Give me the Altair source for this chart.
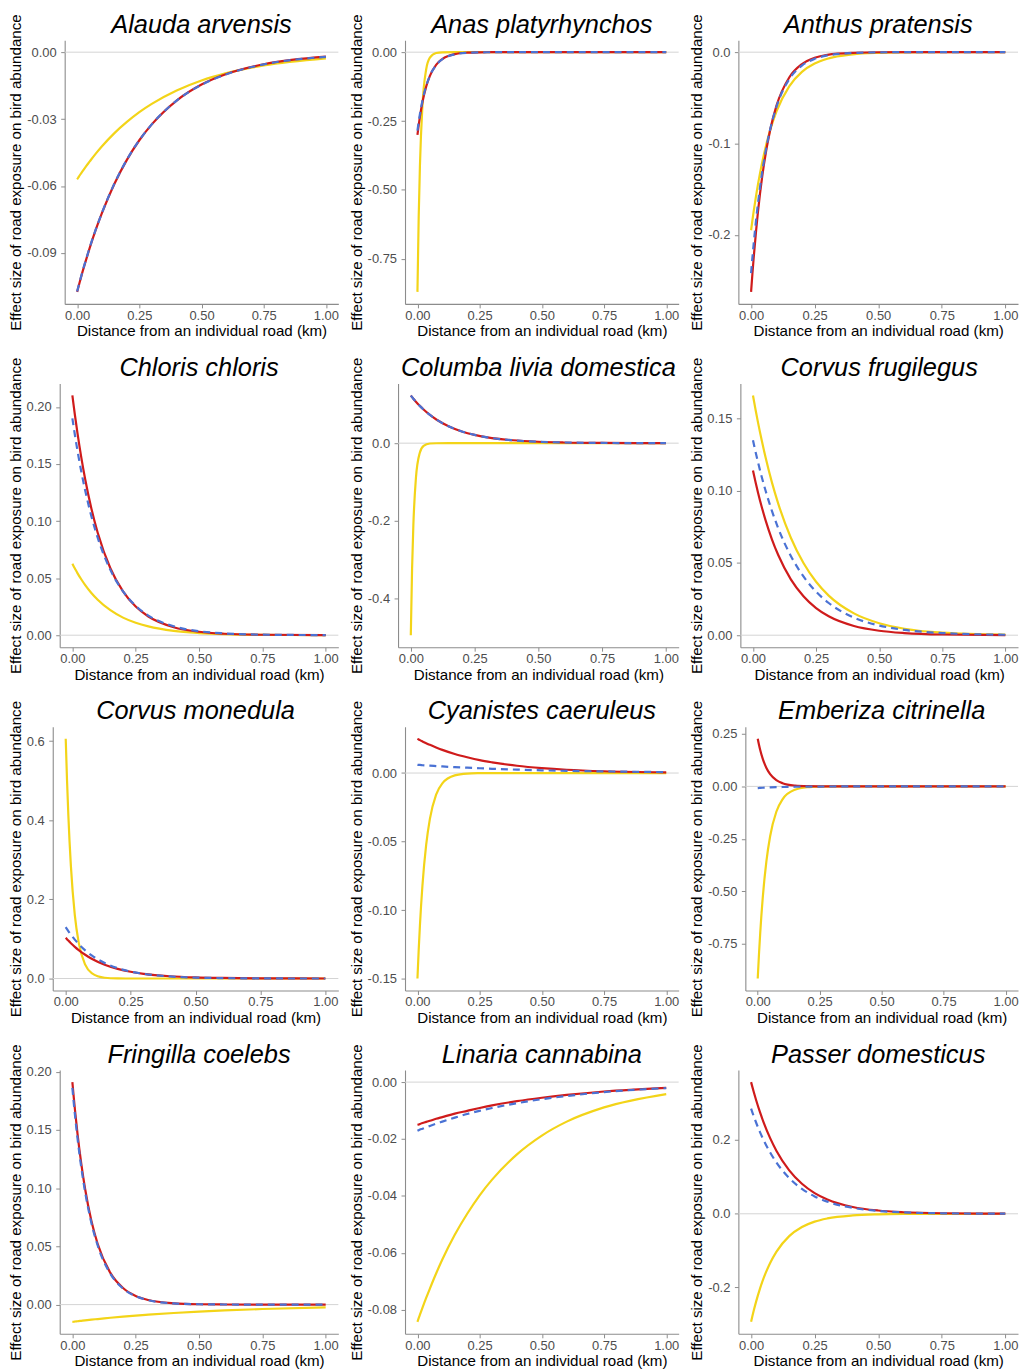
import altair as alt
import pandas as pd

# ---------------- data ----------------
DIST = [0, 0.005, 0.01, 0.02, 0.035, 0.05, 0.075, 0.1, 0.15, 0.2, 0.25, 0.3, 0.4, 0.5, 0.6, 0.75, 1.0]
X_TICKS = [0, 0.25, 0.5, 0.75, 1.0]

SPECIES = [
    "Alauda arvensis", "Anas platyrhynchos", "Anthus pratensis",
    "Chloris chloris", "Columba livia domestica", "Corvus frugilegus",
    "Corvus monedula", "Cyanistes caeruleus", "Emberiza citrinella",
    "Fringilla coelebs", "Linaria cannabina", "Passer domesticus",
]

ALAUDA_RED = [-0.1075, -0.1054, -0.1033, -0.0992, -0.0935, -0.0880, -0.0796, -0.0721, -0.0590, -0.0483, -0.0395, -0.0324, -0.0217, -0.0145, -0.0098, -0.0054, -0.0020]
ALAUDA_BLUE = [-0.1073, -0.1052, -0.1031, -0.0990, -0.0933, -0.0878, -0.0795, -0.0720, -0.0589, -0.0482, -0.0395, -0.0324, -0.0217, -0.0146, -0.0099, -0.0055, -0.0021]
ALAUDA_YELLOW = [-0.0570, -0.0562, -0.0553, -0.0537, -0.0513, -0.0491, -0.0455, -0.0422, -0.0363, -0.0313, -0.0269, -0.0232, -0.0172, -0.0127, -0.0094, -0.0060, -0.0028]

ANAS_RED = [-0.300, -0.265, -0.234, -0.182, -0.125, -0.086, -0.046, -0.025, -0.007, -0.002, -0.0006, -0.0002, 0, 0, 0, 0, 0]
ANAS_BLUE = [-0.285, -0.2528, -0.2242, -0.1764, -0.1230, -0.0858, -0.0471, -0.0258, -0.0078, -0.0023, -0.0007, -0.0002, 0, 0, 0, 0, 0]
ANAS_YELLOW = [-0.870, -0.598, -0.411, -0.194, -0.063, -0.020, -0.003, -0.0005, 0, 0, 0, 0, 0, 0, 0, 0, 0]

ANTHUS_RED = [-0.2625, -0.2435, -0.2259, -0.1945, -0.1553, -0.1240, -0.0852, -0.0586, -0.0277, -0.0131, -0.0062, -0.0029, -0.0007, -0.0001, 0, 0, 0]
ANTHUS_BLUE = [-0.2420, -0.2256, -0.2104, -0.1829, -0.1482, -0.1202, -0.0847, -0.0597, -0.0296, -0.0147, -0.0073, -0.0036, -0.0009, -0.0002, 0, 0, 0]
ANTHUS_YELLOW = [-0.1950, -0.1846, -0.1747, -0.1565, -0.1327, -0.1125, -0.0854, -0.0649, -0.0374, -0.0216, -0.0125, -0.0072, -0.0024, -0.0008, -0.0003, -0.0001, 0]

CHLORIS_RED = [0.2100, 0.2013, 0.1929, 0.1772, 0.1560, 0.1373, 0.1110, 0.0898, 0.0587, 0.0384, 0.0251, 0.0164, 0.0070, 0.0030, 0.0013, 0.0004, 0.0000]
CHLORIS_BLUE = [0.1900, 0.1826, 0.1754, 0.1619, 0.1436, 0.1274, 0.1043, 0.0854, 0.0572, 0.0384, 0.0257, 0.0172, 0.0078, 0.0035, 0.0016, 0.0005, 0.0001]
CHLORIS_YELLOW = [0.0626, 0.0604, 0.0584, 0.0544, 0.0490, 0.0441, 0.0370, 0.0311, 0.0219, 0.0154, 0.0109, 0.0077, 0.0038, 0.0019, 0.0009, 0.0003, 0.0001]

COLUMBA_RED = [0.1230, 0.1188, 0.1147, 0.1069, 0.0963, 0.0867, 0.0728, 0.0611, 0.0430, 0.0303, 0.0214, 0.0151, 0.0075, 0.0037, 0.0018, 0.0006, 0.0001]
COLUMBA_BLUE = [0.1228, 0.1186, 0.1145, 0.1068, 0.0962, 0.0866, 0.0727, 0.0610, 0.0430, 0.0303, 0.0214, 0.0151, 0.0075, 0.0037, 0.0018, 0.0006, 0.0001]
COLUMBA_YELLOW = [-0.495, -0.3236, -0.2116, -0.0904, -0.0252, -0.0071, -0.0008, -0.0001, 0, 0, 0, 0, 0, 0, 0, 0, 0]

FRUGILEGUS_RED = [0.1140, 0.1100, 0.1061, 0.0987, 0.0886, 0.0795, 0.0664, 0.0555, 0.0387, 0.0270, 0.0188, 0.0131, 0.0064, 0.0031, 0.0015, 0.0005, 0.0001]
FRUGILEGUS_BLUE = [0.1350, 0.1310, 0.1271, 0.1197, 0.1094, 0.1000, 0.0861, 0.0741, 0.0549, 0.0407, 0.0301, 0.0223, 0.0122, 0.0067, 0.0037, 0.0015, 0.0003]
FRUGILEGUS_YELLOW = [0.1660, 0.1611, 0.1563, 0.1472, 0.1346, 0.1230, 0.1058, 0.0911, 0.0675, 0.0500, 0.0370, 0.0274, 0.0151, 0.0083, 0.0045, 0.0018, 0.0004]

MONEDULA_RED = [0.1030, 0.0994, 0.0958, 0.0892, 0.0801, 0.0719, 0.0600, 0.0501, 0.0350, 0.0244, 0.0170, 0.0119, 0.0058, 0.0028, 0.0014, 0.0005, 0.0001]
MONEDULA_BLUE = [0.1300, 0.1249, 0.1200, 0.1108, 0.0983, 0.0871, 0.0713, 0.0584, 0.0392, 0.0262, 0.0176, 0.0118, 0.0053, 0.0024, 0.0011, 0.0003, 0.0000]
MONEDULA_YELLOW = [0.606, 0.5012, 0.4144, 0.2834, 0.1603, 0.0907, 0.0350, 0.0136, 0.0020, 0.0003, 0, 0, 0, 0, 0, 0, 0]

CYANISTES_RED = [0.0250, 0.0245, 0.0240, 0.0231, 0.0218, 0.0206, 0.0187, 0.0169, 0.0139, 0.0115, 0.0094, 0.0078, 0.0053, 0.0036, 0.0024, 0.0013, 0.0005]
CYANISTES_BLUE = [0.0060, 0.0059, 0.0059, 0.0057, 0.0055, 0.0054, 0.0051, 0.0048, 0.0043, 0.0039, 0.0035, 0.0031, 0.0025, 0.0020, 0.0016, 0.0012, 0.0007]
CYANISTES_YELLOW = [-0.150, -0.1291, -0.1111, -0.0823, -0.0525, -0.0335, -0.0158, -0.0075, -0.0017, -0.0004, -0.0001, 0, 0, 0, 0, 0, 0]

EMBERIZA_RED = [0.227, 0.1983, 0.1733, 0.1323, 0.0882, 0.0588, 0.0300, 0.0153, 0.0040, 0.0010, 0.0003, 0.0001, 0, 0, 0, 0, 0]
EMBERIZA_BLUE = [-0.0080, -0.0076, -0.0072, -0.0065, -0.0056, -0.0049, -0.0038, -0.0029, -0.0018, -0.0011, -0.0007, -0.0004, -0.0001, 0, 0, 0, 0]
EMBERIZA_YELLOW = [-0.916, -0.8003, -0.6993, -0.5338, -0.3560, -0.2374, -0.1209, -0.0616, -0.0159, -0.0041, -0.0011, -0.0003, 0, 0, 0, 0, 0]

FRINGILLA_RED = [0.1910, 0.1790, 0.1677, 0.1473, 0.1212, 0.0997, 0.0720, 0.0520, 0.0272, 0.0142, 0.0074, 0.0039, 0.0011, 0.0003, 0.0001, 0, 0]
FRINGILLA_BLUE = [0.1860, 0.1743, 0.1633, 0.1434, 0.1180, 0.0971, 0.0702, 0.0507, 0.0265, 0.0138, 0.0072, 0.0038, 0.0010, 0.0003, 0.0001, 0, 0]
FRINGILLA_YELLOW = [-0.0148, -0.0147, -0.0145, -0.0143, -0.0139, -0.0135, -0.0129, -0.0124, -0.0113, -0.0103, -0.0094, -0.0086, -0.0072, -0.0060, -0.0050, -0.0038, -0.0024]

LINARIA_RED = [-0.0150, -0.0149, -0.0147, -0.0144, -0.0140, -0.0136, -0.0129, -0.0123, -0.0111, -0.0101, -0.0091, -0.0082, -0.0067, -0.0055, -0.0045, -0.0033, -0.0020]
LINARIA_BLUE = [-0.0171, -0.0169, -0.0167, -0.0164, -0.0159, -0.0154, -0.0146, -0.0139, -0.0125, -0.0112, -0.0101, -0.0091, -0.0074, -0.0060, -0.0049, -0.0035, -0.0021]
LINARIA_YELLOW = [-0.0843, -0.0830, -0.0818, -0.0794, -0.0759, -0.0726, -0.0673, -0.0624, -0.0537, -0.0463, -0.0398, -0.0343, -0.0254, -0.0188, -0.0139, -0.0089, -0.0042]

PASSER_RED = [0.357, 0.3440, 0.3315, 0.3079, 0.2755, 0.2466, 0.2050, 0.1703, 0.1177, 0.0813, 0.0561, 0.0388, 0.0185, 0.0088, 0.0042, 0.0014, 0.0002]
PASSER_BLUE = [0.285, 0.2749, 0.2652, 0.2468, 0.2215, 0.1988, 0.1661, 0.1387, 0.0968, 0.0675, 0.0471, 0.0329, 0.0160, 0.0078, 0.0038, 0.0013, 0.0002]
PASSER_YELLOW = [-0.293, -0.2780, -0.2638, -0.2375, -0.2029, -0.1733, -0.1333, -0.1025, -0.0606, -0.0359, -0.0212, -0.0126, -0.0044, -0.0015, -0.0005, -0.0001, 0]

Y_TICKS = [
    [0, -0.03, -0.06, -0.09],
    [0, -0.25, -0.5, -0.75],
    [0, -0.1, -0.2],
    [0, 0.05, 0.1, 0.15, 0.2],
    [0, -0.2, -0.4],
    [0, 0.05, 0.1, 0.15],
    [0, 0.2, 0.4, 0.6],
    [0, -0.05, -0.1, -0.15],
    [0.25, 0, -0.25, -0.5, -0.75],
    [0, 0.05, 0.1, 0.15, 0.2],
    [0, -0.02, -0.04, -0.06, -0.08],
    [0.2, 0, -0.2],
]
Y_FORMATS = [".2f", ".2f", ".1f", ".2f", ".1f", ".2f", ".1f", ".2f", ".2f", ".2f", ".2f", ".1f"]

SERIES = [
    (ALAUDA_RED, ALAUDA_BLUE, ALAUDA_YELLOW),
    (ANAS_RED, ANAS_BLUE, ANAS_YELLOW),
    (ANTHUS_RED, ANTHUS_BLUE, ANTHUS_YELLOW),
    (CHLORIS_RED, CHLORIS_BLUE, CHLORIS_YELLOW),
    (COLUMBA_RED, COLUMBA_BLUE, COLUMBA_YELLOW),
    (FRUGILEGUS_RED, FRUGILEGUS_BLUE, FRUGILEGUS_YELLOW),
    (MONEDULA_RED, MONEDULA_BLUE, MONEDULA_YELLOW),
    (CYANISTES_RED, CYANISTES_BLUE, CYANISTES_YELLOW),
    (EMBERIZA_RED, EMBERIZA_BLUE, EMBERIZA_YELLOW),
    (FRINGILLA_RED, FRINGILLA_BLUE, FRINGILLA_YELLOW),
    (LINARIA_RED, LINARIA_BLUE, LINARIA_YELLOW),
    (PASSER_RED, PASSER_BLUE, PASSER_YELLOW),
]

X_TITLE = "Distance from an individual road (km)"
Y_TITLE = "Effect size of road exposure on bird abundance"

# ---------------- layout / style ----------------
AXIS_LEFT = [64, 64, 57, 59, 57, 59, 52, 64, 64, 59, 64, 57]   # plot-area left edge within its column
GROUP_LEFT = 52                                                  # common left edge of every cell group
COL_RIGHT = [339, 339, 338]
PLOT_H = 265
FONT = "Liberation Sans"
RED = "#cf1b1b"
BLUE = "#4a72d4"
YELLOW = "#f3d418"


def panel(i):
    red, blue, yellow = SERIES[i]
    n = len(DIST)
    df = pd.DataFrame({
        "dist": DIST * 3,
        "effect": yellow + red + blue,
        "series": ["yellow"] * n + ["red"] * n + ["blue"] * n,
    })
    allv = red + blue + yellow + [0.0]
    lo, hi = min(allv), max(allv)
    r = hi - lo
    dom = [lo - 0.05 * r, hi + 0.05 * r]
    left = AXIS_LEFT[i]
    d = left - GROUP_LEFT
    w = COL_RIGHT[i % 3] - GROUP_LEFT
    ext = left - 26
    x = alt.X("dist:Q",
              scale=alt.Scale(domain=[-0.05, 1.05], nice=False, zero=False, range=[d, w]),
              axis=alt.Axis(values=X_TICKS, format=".2f", title=X_TITLE,
                            tickSize=4, labelPadding=1.5, titlePadding=1.5))
    y = alt.Y("effect:Q",
              scale=alt.Scale(domain=dom, nice=False, zero=False),
              axis=alt.Axis(values=Y_TICKS[i],
                            labelExpr="replace(format(datum.value, '%s'), '\u2212', '-')" % Y_FORMATS[i],
                            title=Y_TITLE, minExtent=ext, maxExtent=ext, offset=-d,
                            titlePadding=3, tickSize=4, labelPadding=4.5))
    zero_df = pd.DataFrame({"dist": [-0.05], "dist2": [1.05], "effect": [0.0]})
    zero = alt.Chart(zero_df).mark_rule(color="#d4d4d4", strokeWidth=1).encode(
        x=x, x2="dist2:Q", y=y)
    base = alt.Chart(df)
    yl = base.transform_filter(alt.datum.series == "yellow").mark_line(
        color=YELLOW, strokeWidth=2.2, interpolate="monotone").encode(x=x, y=y)
    rl = base.transform_filter(alt.datum.series == "red").mark_line(
        color=RED, strokeWidth=2.2, interpolate="monotone").encode(x=x, y=y)
    bl = base.transform_filter(alt.datum.series == "blue").mark_line(
        color=BLUE, strokeWidth=2.2, strokeDash=[7, 5], interpolate="monotone").encode(x=x, y=y)
    return alt.layer(zero, yl, rl, bl).properties(
        width=w,
        height=PLOT_H,
        title=alt.TitleParams(SPECIES[i], font=FONT, fontSize=25.5, fontStyle="italic",
                              fontWeight="normal", color="black", anchor="middle",
                              frame="group", baseline="alphabetic", offset=-44.5, dx=d / 2),
    )


chart = alt.concat(
    *[panel(i) for i in range(12)],
    columns=3,
    align="none",
    bounds="full",
    spacing={"row": 16, "column": 9},
).properties(
    padding={"left": 8, "top": 9, "right": 0, "bottom": 0},
    background="white",
).configure_view(stroke=None).configure_axis(
    grid=False,
    domainColor="#8c8c8c",
    tickColor="#8c8c8c",
    domainWidth=1.1,
    labelFont=FONT,
    titleFont=FONT,
    labelFontSize=13,
    titleFontSize=15.2,
    labelColor="#4d4d4d",
    titleColor="black",
    titleFontWeight="normal",
)

chart.save("out.html", embed_options={"renderer": "svg", "actions": False})
